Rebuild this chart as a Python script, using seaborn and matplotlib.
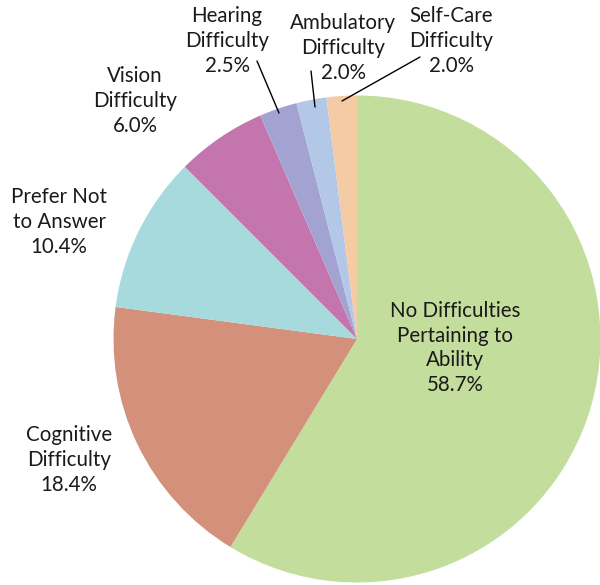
import matplotlib
matplotlib.use("Agg")
import matplotlib.pyplot as plt
import seaborn as sns

categories = ["No Difficulties\nPertaining to\nAbility", "Cognitive\nDifficulty",
              "Prefer Not\nto Answer", "Vision\nDifficulty", "Hearing\nDifficulty",
              "Ambulatory\nDifficulty", "Self-Care\nDifficulty"]
values = [58.7, 18.4, 10.4, 6.0, 2.5, 2.0, 2.0]
colors = ["#C3DD9C", "#D3907A", "#A6DADC", "#C475AD", "#A3A3D2", "#B3C8E6", "#F5CBA5"]

sns.set_theme(style="white")
plt.rcParams['font.family'] = ['Lato', 'DejaVu Sans']

W, H = 600, 585
CX, CY, R = 357, 339, 243.5

def d(px, py):
    return ((px - CX) / R, (CY - py) / R)

fig = plt.figure(figsize=(W / 100, H / 100), dpi=100)
ax = fig.add_axes([0, 0, 1, 1])
palette = sns.color_palette(colors)
ax.pie(values, colors=palette, startangle=90, counterclock=False, radius=1.0,
       wedgeprops=dict(linewidth=0))
ax.set_xlim(-CX / R, (W - CX) / R)
ax.set_ylim(-(H - CY) / R, CY / R)
ax.set_aspect("equal")
ax.axis("off")

label_px = [(455, 348), (69, 460), (59, 222), (135, 101), (227, 41), (343, 48), (451, 41)]
leaders = {4: ((257, 61), (279, 113)), 5: ((311, 71), (315, 107)), 6: ((420, 57), (342, 101))}

for i, (cat, v) in enumerate(zip(categories, values)):
    x, y = d(*label_px[i])
    ax.text(x, y, f"{cat}\n{v:.1f}%", ha="center", va="center", fontsize=14.8,
            color="#1a1a1a", linespacing=1.3)
    if i in leaders:
        (a, b) = leaders[i]
        xa, ya = d(*a)
        xb, yb = d(*b)
        ax.plot([xa, xb], [ya, yb], color="black", lw=1.0)

fig.savefig("out.png", dpi=100)
